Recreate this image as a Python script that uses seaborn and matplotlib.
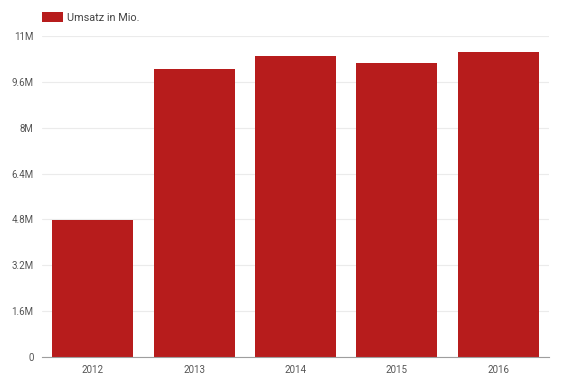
import matplotlib
matplotlib.use("Agg")
import matplotlib.pyplot as plt
import seaborn as sns
import pandas as pd
from matplotlib.patches import Patch

years = ["2012", "2013", "2014", "2015", "2016"]
umsatz = [4.77, 10.06, 10.49, 10.27, 10.65]  # in millions
series_name = "Umsatz in Mio."
tick_values = [0, 1.6, 3.2, 4.8, 6.4, 8.0, 9.6, 11.2]
tick_labels = ["0", "1.6M", "3.2M", "4.8M", "6.4M", "8M", "9.6M", "11M"]

df = pd.DataFrame({"Jahr": years, "Umsatz": umsatz})

sns.set_theme(style="white")
plt.rcParams['font.family'] = ['Roboto', 'DejaVu Sans']

fig = plt.figure(figsize=(5.62, 3.78), dpi=100)
ax = fig.add_axes([42/562, 1 - 357/378, (549-42)/562, (357-36)/378])

color = "#B71C1C"
sns.barplot(data=df, x="Jahr", y="Umsatz", color=color, width=0.8, ax=ax,
            saturation=1, edgecolor="none")

ax.set_xlim(-0.5, 4.5)
ax.set_ylim(0, 11.2)
ax.set_yticks(tick_values)
ax.set_yticklabels(tick_labels)
ax.set_xlabel("")
ax.set_ylabel("")
ax.yaxis.grid(True, color="#ebebeb", linewidth=0.8)
ax.set_axisbelow(True)
for s in ["top", "right", "left"]:
    ax.spines[s].set_visible(False)
ax.spines["bottom"].set_color("#9e9e9e")
ax.spines["bottom"].set_linewidth(0.8)
ax.tick_params(axis="both", length=0, labelsize=7, colors="#555555")
ax.tick_params(axis="y", pad=6)
ax.tick_params(axis="x", pad=6)

handle = Patch(facecolor=color, edgecolor="none")
fig.legend([handle], [series_name], loc="upper left",
           bbox_to_anchor=(42/562, 1 - 12/378), frameon=False,
           fontsize=7.8, handlelength=1.9, handleheight=1.0,
           handletextpad=0.45, labelcolor="#444444", borderaxespad=0,
           borderpad=0)

fig.savefig("out.png", dpi=100)
